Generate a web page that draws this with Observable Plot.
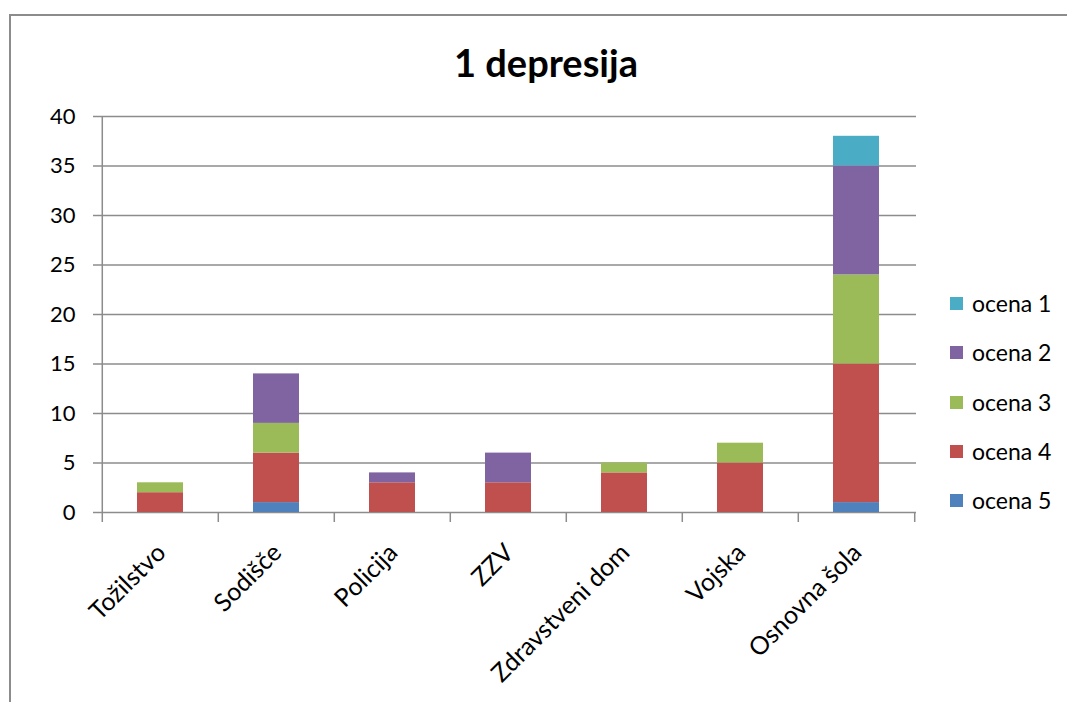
<!DOCTYPE html>
<html>
<head>
<meta charset="utf-8">
<script src="https://cdn.jsdelivr.net/npm/d3@7"></script>
<script src="https://cdn.jsdelivr.net/npm/@observablehq/plot@0.6"></script>
<style>
  html, body { margin: 0; padding: 0; background: #fff; }
  #chart { position: relative; width: 1067px; height: 702px; overflow: hidden; font-family: "Lato", "Open Sans", sans-serif; color: #000; }
  #frame { position: absolute; left: 9px; top: 14px; right: -10px; bottom: -10px; border-top: 2px solid #8c8c8c; border-left: 2px solid #8c8c8c; }
  #plot { position: absolute; left: 0; top: 0; }
  #title { position: absolute; left: 0; width: 1092px; top: 43px; text-align: center; font-size: 38px; font-weight: 700; line-height: 1; }
  #legend { position: absolute; left: 950px; top: 279px; }
  .item { display: flex; align-items: center; height: 49.3px; font-size: 23px; line-height: 1; }
  .item .sw { width: 13px; height: 13px; margin-right: 9px; }
</style>
</head>
<body>
<div id="chart">
  <div id="frame"></div>
  <div id="plot"></div>
  <div id="title">1 depresija</div>
  <div id="legend"></div>
</div>
<script>
// Institutions on the x axis
const categories = ["Tožilstvo", "Sodišče", "Policija", "ZZV", "Zdravstveni dom", "Vojska", "Osnovna šola"];

// Number of answers per grade, one array per grade
const ocena5 = [0, 1, 0, 0, 0, 0, 1];
const ocena4 = [2, 5, 3, 3, 4, 5, 14];
const ocena3 = [1, 3, 0, 0, 1, 2, 9];
const ocena2 = [0, 5, 1, 3, 0, 0, 11];
const ocena1 = [0, 0, 0, 0, 0, 0, 3];

// Grade names (legend order) and their colours
const seriesNames = ["ocena 1", "ocena 2", "ocena 3", "ocena 4", "ocena 5"];
const seriesColors = ["#4BACC6", "#8064A2", "#9BBB59", "#C0504D", "#4F81BD"];

// Y axis ticks
const yTicks = [0, 5, 10, 15, 20, 25, 30, 35, 40];

// Stacking goes bottom-up: ocena 5 first, ocena 1 on top
const stackOrder = [
  ["ocena 5", ocena5],
  ["ocena 4", ocena4],
  ["ocena 3", ocena3],
  ["ocena 2", ocena2],
  ["ocena 1", ocena1]
];
const rows = stackOrder.flatMap(([name, values]) =>
  values.map((v, i) => ({category: categories[i], series: name, value: v}))
);

const W = 1067, H = 702;
const mLeft = 101, mRight = 151, mTop = 116, mBottom = 190;
const step = (W - mLeft - mRight) / categories.length;
const axisColor = "#8c8c8c";

const chart = Plot.plot({
  width: W,
  height: H,
  marginLeft: mLeft,
  marginRight: mRight,
  marginTop: mTop,
  marginBottom: mBottom,
  style: {background: "transparent", fontFamily: "Lato, 'Open Sans', sans-serif", color: "#000"},
  x: {domain: categories, paddingInner: 0.6, paddingOuter: 0.3, label: null},
  y: {domain: [0, 40], label: null},
  color: {domain: seriesNames, range: seriesColors},
  marks: [
    Plot.gridY(yTicks, {stroke: axisColor, strokeOpacity: 1, strokeWidth: 1.5}),
    Plot.barY(rows, {x: "category", y: "value", fill: "series"}),
    // y axis line
    Plot.ruleX([categories[0]], {dx: -step / 2, y1: 0, y2: 40, stroke: axisColor, strokeWidth: 1.5}),
    // tick marks between categories, below the baseline
    Plot.ruleX(categories, {dx: -step / 2, y1: 0, y2: 0, insetBottom: -10, stroke: axisColor, strokeWidth: 1.5}),
    Plot.ruleX([categories[categories.length - 1]], {dx: step / 2, y1: 0, y2: 0, insetBottom: -10, stroke: axisColor, strokeWidth: 1.5}),
    Plot.axisY(yTicks, {tickSize: 8, tickPadding: 18, fontSize: 22, stroke: axisColor, strokeWidth: 1.5, fill: "#000", label: null}),
    Plot.axisX({tickSize: 0, tickPadding: 36, tickRotate: -45, dx: 1, fontSize: 25, fill: "#000", label: null})
  ]
});
document.getElementById("plot").appendChild(chart);

// Legend, top to bottom: ocena 1 .. ocena 5
const legend = document.getElementById("legend");
seriesNames.forEach((name, i) => {
  const item = document.createElement("div");
  item.className = "item";
  const sw = document.createElement("span");
  sw.className = "sw";
  sw.style.background = seriesColors[i];
  const label = document.createElement("span");
  label.textContent = name;
  item.appendChild(sw);
  item.appendChild(label);
  legend.appendChild(item);
});
</script>
</body>
</html>
